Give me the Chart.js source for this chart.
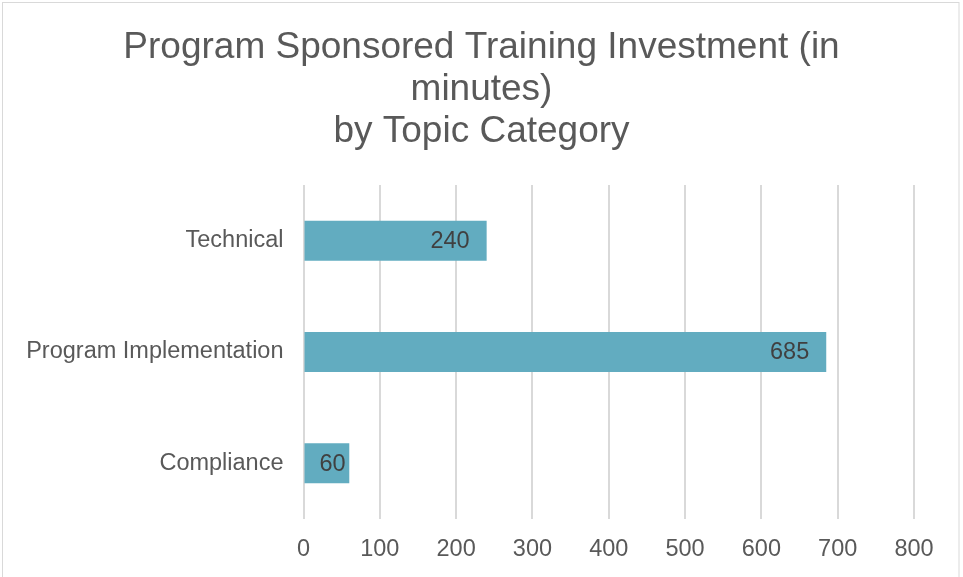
<!DOCTYPE html>
<html>
<head>
<meta charset="utf-8">
<script src="https://cdn.jsdelivr.net/npm/chart.js@4/dist/chart.umd.min.js"></script>
<style>
  html, body { margin: 0; padding: 0; background: #fff; }
  #wrap { width: 963px; height: 577px; position: relative; }
</style>
</head>
<body>
<div id="wrap"><canvas id="c"></canvas></div>
<script>
const categories = ['Technical', 'Program Implementation', 'Compliance']
const minutes = [240, 685, 60]
const xticks = [0, 100, 200, 300, 400, 500, 600, 700, 800]
const titleLines = ['Program Sponsored Training Investment (in', 'minutes)', 'by Topic Category']

const FONT = "'Liberation Sans', Arial, sans-serif"

// value labels drawn inside the bar end, like Excel's "inside end"
const valueLabels = {
  id: 'valueLabels',
  afterDatasetsDraw (chart) {
    const ctx = chart.ctx
    const meta = chart.getDatasetMeta(0)
    ctx.save()
    ctx.font = '23.5px ' + FONT
    ctx.fillStyle = '#404040'
    ctx.textBaseline = 'middle'
    ctx.textAlign = 'left'
    meta.data.forEach(function (bar, i) {
      const txt = String(minutes[i])
      const w = ctx.measureText(txt).width
      const x = Math.max(bar.x - 17 - w, bar.base + 15)
      ctx.fillText(txt, x, bar.y + 1)
    })
    ctx.restore()
  }
}

const frame = {
  id: 'frame',
  beforeDraw (chart) {
    const ctx = chart.ctx
    ctx.save()
    ctx.fillStyle = '#fff'
    ctx.fillRect(0, 0, chart.width, chart.height)
    ctx.strokeStyle = '#d9d9d9'
    ctx.lineWidth = 1
    ctx.strokeRect(2.5, 2.5, 956.5, 600)
    ctx.restore()
  }
}

new Chart(document.getElementById('c').getContext('2d'), {
  type: 'bar',
  data: {
    labels: categories,
    datasets: [{
      data: minutes,
      backgroundColor: '#62acc0',
      borderWidth: 0,
      categoryPercentage: 1,
      barPercentage: 0.36
    }]
  },
  options: {
    indexAxis: 'y',
    responsive: true,
    maintainAspectRatio: false,
    animation: false,
    layout: { padding: 0 },
    plugins: {
      legend: { display: false },
      tooltip: { enabled: false },
      title: {
        display: true,
        text: titleLines,
        color: '#595959',
        font: { family: FONT, size: 37, weight: 'normal', lineHeight: '42px' },
        padding: { top: 27, bottom: 32 }
      }
    },
    scales: {
      x: {
        min: 0,
        max: 800,
        afterBuildTicks: function (scale) {
          scale.ticks = xticks.map(function (v) { return { value: v } })
        },
        afterFit: function (scale) { scale.height = 58 },
        grid: { color: '#d9d9d9', lineWidth: 2, drawTicks: false },
        border: { display: false },
        ticks: {
          color: '#595959',
          font: { family: FONT, size: 23.5 },
          padding: 16,
          maxRotation: 0
        }
      },
      y: {
        afterFit: function (scale) { scale.width = 303.5 },
        grid: { display: false, drawTicks: false },
        border: { display: false },
        ticks: {
          color: '#595959',
          font: { family: FONT, size: 23.5 },
          padding: 20
        }
      },
      // empty right-hand axis: keeps the plot clear of the right edge
      // while the title stays centred on the whole canvas
      yRight: {
        position: 'right',
        type: 'linear',
        afterFit: function (scale) { scale.width = 49 },
        grid: { display: false, drawTicks: false },
        border: { display: false },
        ticks: { display: false }
      }
    }
  },
  plugins: [frame, valueLabels]
})
</script>
</body>
</html>
